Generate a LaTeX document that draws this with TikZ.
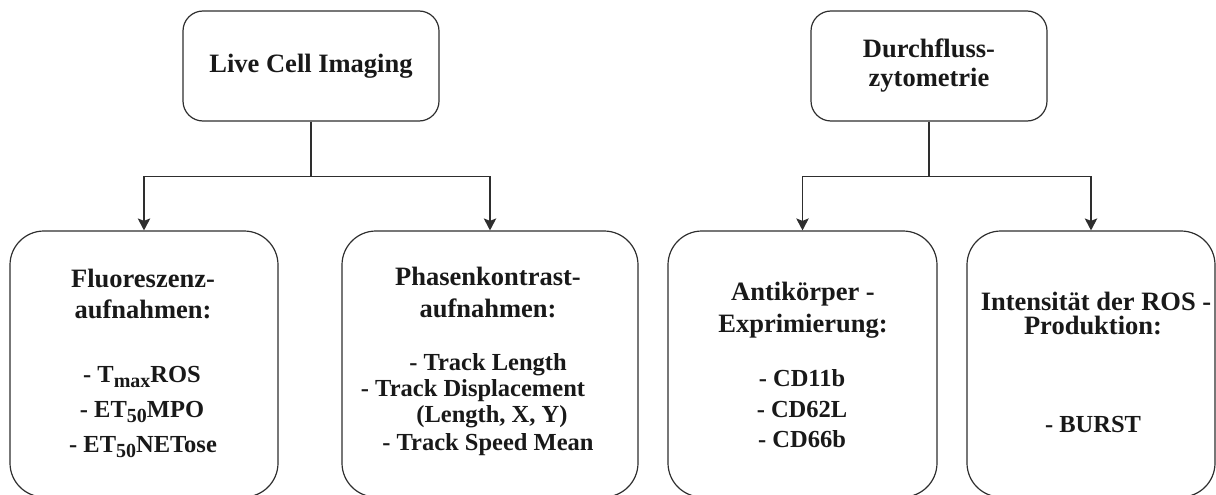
\documentclass[tikz,border=0pt]{standalone}
\usepackage{fontspec}
\setmainfont{Liberation Serif}
\usetikzlibrary{arrows.meta}
% lowered, smaller text for indices such as T_max and ET_50
\newcommand\lowsub[1]{\raisebox{-5.5pt}{\fontsize{20}{20}\selectfont #1}}
\begin{document}
\begin{tikzpicture}[x=1pt,y=-1pt,
  ink/.style={draw=black!82, line width=1.2pt},
  topbox/.style={ink, rounded corners=20pt, inner sep=0pt, minimum height=110pt},
  bigbox/.style={ink, rounded corners=34pt, inner sep=0pt, minimum height=266pt},
  hd/.style={anchor=base, inner sep=0pt, text=black!90,
    font=\fontsize{26.5}{30}\selectfont\bfseries},
  item/.style={anchor=base, inner sep=0pt, text=black!90,
    font=\fontsize{24.5}{28}\selectfont\bfseries},
  arr/.style={ink, -{Stealth[length=12pt,width=12.5pt,inset=2.5pt]}}]
\useasboundingbox (0,0) rectangle (1216,495);
\clip (0,0) rectangle (1216,495);

% top level boxes
\node[topbox, minimum width=256pt] (lci) at (311,66) {};
\node[topbox, minimum width=236pt] (dfz) at (929,66) {};
\node[hd] (lciT) at (311,73) {Live Cell Imaging};
\node[hd] (dfzA) at (929,58) {Durchfluss-};
\node[hd] (dfzB) at (929,87) {zytometrie};

% second level boxes
\node[bigbox, minimum width=268pt] (fl) at (144,364) {};
\node[bigbox, minimum width=296pt] (ph) at (490,364) {};
\node[bigbox, minimum width=269pt] (ak) at (802.5,364) {};
\node[bigbox, minimum width=248pt] (ros) at (1091,364) {};

% connectors
\draw[arr] (lci.south) -- ++(0,55) -| (fl.north);
\draw[arr] (lci.south) -- ++(0,55) -| (ph.north);
\draw[arr] (dfz.south) -- ++(0,55) -| (ak.north);
\draw[arr] (dfz.south) -- ++(0,55) -| (ros.north);

% Fluoreszenzaufnahmen
\node[hd] (flA) at (143,287) {Fluoreszenz-};
\node[hd] (flB) at (143,318) {aufnahmen:};
\node[item] (fl1) at (142,382) {- T\lowsub{max}ROS};
\node[item] (fl2) at (142,417) {- ET\lowsub{50}MPO};
\node[item] (fl3) at (143,452) {- ET\lowsub{50}NETose};

% Phasenkontrastaufnahmen
\node[hd] (phA) at (488,285) {Phasenkontrast-};
\node[hd] (phB) at (488,317) {aufnahmen:};
\node[item] (ph1) at (488,370) {- Track Length};
\node[item] (ph2) at (473,396) {- Track Displacement};
\node[item] (ph3) at (492,422) {(Length, X, Y)};
\node[item] (ph4) at (488,450) {- Track Speed Mean};

% Antikoerper-Exprimierung
\node[hd] (akA) at (803,300) {Antikörper -};
\node[hd] (akB) at (803,332) {Exprimierung:};
\node[item] (ak1) at (802,386) {- CD11b};
\node[item] (ak2) at (802,417) {- CD62L};
\node[item] (ak3) at (802,447) {- CD66b};

% ROS-Produktion
\node[hd] (rosA) at (1096,310) {Intensität der ROS -};
\node[hd] (rosB) at (1093,334) {Produktion:};
\node[item] (ros1) at (1093,432) {- BURST};
\end{tikzpicture}
\end{document}
